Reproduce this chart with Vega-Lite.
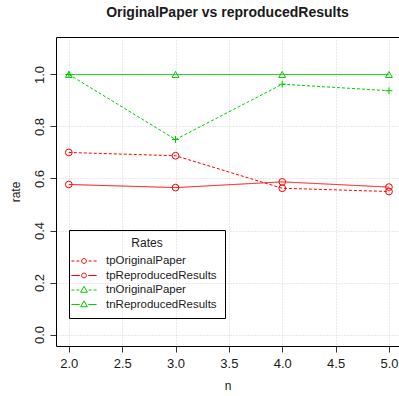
{
  "$schema": "https://vega.github.io/schema/vega-lite/v6.json",
  "width": 343,
  "height": 309,
  "autosize": "none",
  "padding": {"left": 56, "top": 37, "right": 0, "bottom": 50},
  "background": "white",
  "config": {
    "font": "Liberation Sans",
    "view": {"stroke": null},
    "axis": {"labelFont": "Liberation Sans", "titleFont": "Liberation Sans", "labelColor": "#1a1a1a", "titleColor": "#1a1a1a"},
    "legend": {"labelFont": "Liberation Sans", "titleFont": "Liberation Sans"}
  },
  "title": {"text": "OriginalPaper vs reproducedResults", "fontSize": 14, "fontWeight": "bold", "font": "Liberation Sans", "color": "#1a1a1a", "offset": 17, "anchor": "middle"},
  "data": {"values": [
    {"series": "tpOriginalPaper", "n": 2, "rate": 0.70},
    {"series": "tpOriginalPaper", "n": 3, "rate": 0.6875},
    {"series": "tpOriginalPaper", "n": 4, "rate": 0.5625},
    {"series": "tpOriginalPaper", "n": 5, "rate": 0.55},
    {"series": "tpReproducedResults", "n": 2, "rate": 0.577},
    {"series": "tpReproducedResults", "n": 3, "rate": 0.565},
    {"series": "tpReproducedResults", "n": 4, "rate": 0.587},
    {"series": "tpReproducedResults", "n": 5, "rate": 0.567},
    {"series": "tnOriginalPaper", "n": 2, "rate": 1.0},
    {"series": "tnOriginalPaper", "n": 3, "rate": 0.75},
    {"series": "tnOriginalPaper", "n": 4, "rate": 0.9625},
    {"series": "tnOriginalPaper", "n": 5, "rate": 0.9375},
    {"series": "tnReproducedResults", "n": 2, "rate": 1.0},
    {"series": "tnReproducedResults", "n": 3, "rate": 1.0},
    {"series": "tnReproducedResults", "n": 4, "rate": 1.0},
    {"series": "tnReproducedResults", "n": 5, "rate": 1.0}
  ]},
  "resolve": {"axis": {"x": "independent"}},
  "layer": [
    {
      "mark": {"type": "line", "strokeWidth": 1},
      "encoding": {
        "x": {"field": "n", "type": "quantitative", "scale": {"domain": [1.88, 5.094], "nice": false, "zero": false},
          "axis": {"orient": "bottom", "values": [2, 2.5, 3, 3.5, 4, 4.5, 5], "format": ".1f", "title": "n", "labelFontSize": 13, "titleFontSize": 12, "titleFontWeight": "normal",
            "grid": true, "gridColor": "#d3d3d3", "gridDash": [1, 2], "domainColor": "black", "tickColor": "#333", "tickSize": 6, "labelPadding": 5, "titlePadding": 10, "labelFlush": false}},
        "y": {"field": "rate", "type": "quantitative", "scale": {"domain": [-0.044, 1.144], "nice": false, "zero": false},
          "axis": {"values": [0, 0.2, 0.4, 0.6, 0.8, 1.0], "format": ".1f", "title": "rate", "labelAngle": -90, "labelFontSize": 13, "titleFontSize": 12, "titleFontWeight": "normal",
            "grid": true, "gridColor": "#d3d3d3", "gridDash": [1, 2], "domainColor": "black", "tickColor": "#333", "tickSize": 6, "labelPadding": 4, "titlePadding": 11, "labelFlush": false}},
        "color": {"field": "series", "type": "nominal",
          "scale": {"domain": ["tpOriginalPaper", "tpReproducedResults", "tnOriginalPaper", "tnReproducedResults"], "range": ["#FF0000", "#FF0000", "#00CD00", "#00CD00"]},
          "legend": {"title": "Rates", "orient": "none", "legendX": 13, "legendY": 193, "strokeColor": "black", "fillColor": "transparent", "padding": 8,
            "titleFontSize": 12, "titleFontWeight": "normal", "titleAnchor": "middle", "titleColor": "#1a1a1a", "labelFontSize": 11.5, "labelColor": "#1a1a1a",
            "symbolSize": 169, "symbolStrokeWidth": 1, "labelOffset": 15, "rowPadding": 1.5, "titlePadding": 4,
            "encode": {"symbols": {"update": {
              "fill": {"value": "transparent"},
              "strokeDash": {"value": []},
              "size": {"value": 169},
              "shape": {"signal": "datum.value === 'tpOriginalPaper' ? 'M-1.94,0L-1.48,0M-1.17,0L-0.71,0M0.71,0L1.17,0M1.48,0L1.94,0M0.37,0A0.37,0.37 0 1,1 -0.37,0A0.37,0.37 0 1,1 0.37,0' : datum.value === 'tpReproducedResults' ? 'M-1.94,0L-0.66,0M0.66,0L1.94,0M0.37,0A0.37,0.37 0 1,1 -0.37,0A0.37,0.37 0 1,1 0.37,0' : datum.value === 'tnOriginalPaper' ? 'M-1.94,0L-1.48,0M-1.17,0L-0.71,0M0.71,0L1.17,0M1.48,0L1.94,0M0,-0.56L-0.52,0.345L0.52,0.345Z' : 'M-1.94,0L-0.66,0M0.66,0L1.94,0M0,-0.56L-0.52,0.345L0.52,0.345Z'"}
            }}}}},
        "strokeDash": {"field": "series", "type": "nominal",
          "scale": {"range": [[3, 2], [1, 0], [3, 2], [1, 0]]},
          "legend": null}
      }
    },
    {
      "mark": {"type": "point", "filled": false, "strokeWidth": 1, "opacity": 1},
      "encoding": {
        "x": {"field": "n", "type": "quantitative", "axis": null},
        "y": {"field": "rate", "type": "quantitative"},
        "stroke": {"field": "series", "type": "nominal",
          "scale": {"range": ["#00CD00", "#00CD00", "#FF0000", "#FF0000"]},
          "legend": null},
        "shape": {"field": "series", "type": "nominal",
          "scale": {"range": ["M-1,0L1,0M0,-1L0,1", "triangle-up", "circle", "circle"]},
          "legend": null},
        "size": {"field": "series", "type": "nominal",
          "scale": {"range": [49, 45, 24, 24]},
          "legend": null}
      }
    },
    {
      "mark": {"type": "point", "opacity": 0},
      "encoding": {
        "x": {"field": "n", "type": "quantitative",
          "axis": {"orient": "top", "labels": false, "ticks": false, "grid": false, "title": null, "domain": true, "domainColor": "black"}},
        "y": {"field": "rate", "type": "quantitative"}
      }
    }
  ]
}
